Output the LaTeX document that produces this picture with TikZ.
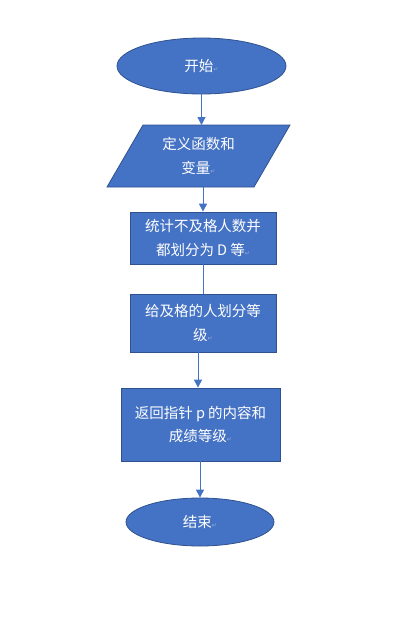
\documentclass[tikz,border=0pt]{standalone}
\usepackage{fontspec}
\setmainfont{Noto Sans CJK SC}
\newfontfamily\djv{DejaVu Sans}
\usetikzlibrary{shapes.geometric,arrows.meta}
\definecolor{boxfill}{HTML}{4472C4}
\definecolor{boxline}{HTML}{2F528F}
\definecolor{arrcol}{HTML}{4472C4}
\definecolor{retgray}{HTML}{9DB0D8}
\newcommand\retmark{{\djv\fontsize{6}{6}\selectfont\color{retgray}↵}}
\tikzset{
  x=1pt, y=-1pt,
  txt/.style={text=white, font=\fontsize{14.5}{23.5}\selectfont, align=center, inner sep=0pt},
  boxnode/.style={txt, draw=boxline, fill=boxfill, line width=0.8pt, rectangle},
  ellnode/.style={txt, draw=boxline, fill=boxfill, line width=0.8pt, ellipse},
  conn/.style={draw=arrcol, line width=1pt},
  arr/.style={conn, -{Triangle[length=8pt,width=8pt]}},
}
\begin{document}
\begin{tikzpicture}
\useasboundingbox (0,0) rectangle (404,641);
\fill[white] (0,0) rectangle (404,641);
% start
\node[ellnode, minimum width=169pt, minimum height=56pt] (start) at (201.5,66) {开始\retmark};
% parallelogram
\draw[draw=boxline, fill=boxfill, line width=0.8pt] (143,125) -- (290,125) -- (254,187) -- (107,187) -- cycle;
\node[txt] (para) at (198.5,156) {定义函数和\\变量\retmark};
\coordinate (paraT) at (201.5,125);
\coordinate (paraB) at (203,187);
% boxes
\node[boxnode, minimum width=146pt, minimum height=52pt] (count) at (203,238) {统计不及格人数并\\都划分为 D 等\retmark};
\node[boxnode, minimum width=146pt, minimum height=58pt] (grade) at (203,323) {给及格的人划分等\\级\retmark};
\node[boxnode, minimum width=159pt, minimum height=73pt] (ret) at (200.5,424.5) {返回指针 p 的内容和\\成绩等级\retmark};
\node[ellnode, minimum width=148pt, minimum height=48pt] (stop) at (200,522) {结束\retmark};
\coordinate (xa) at (198,0);
\coordinate (xb) at (200,0);
% connectors
\draw[arr] (start.south) -- (paraT);
\draw[arr] (paraB) -- (count.north);
\draw[conn] (count.south) -- (grade.north);
\draw[arr] (grade.south -| xa) -- (ret.north -| xa);
\draw[arr] (ret.south -| xb) -- (stop.north);
\end{tikzpicture}
\end{document}
